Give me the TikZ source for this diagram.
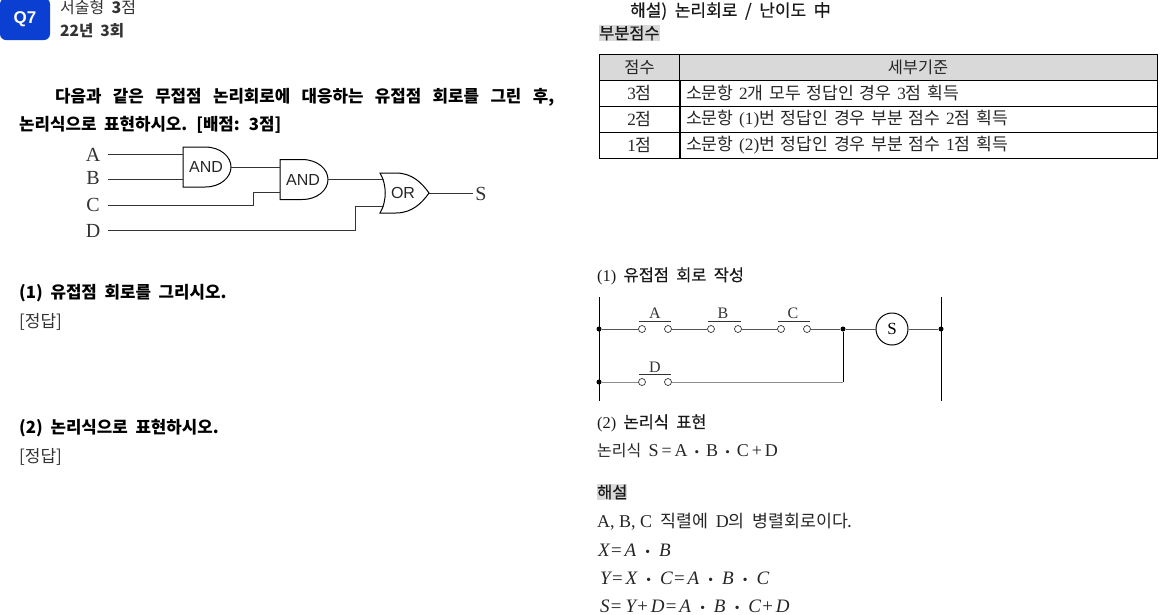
\documentclass[tikz,border=0pt]{standalone}
\usepackage{fontspec}
\setmainfont{Liberation Serif}
\setsansfont{Liberation Sans}
\newfontfamily\kr[WordSpace=2]{Noto Sans CJK KR}
\newfontfamily\krhead[WordSpace=2,FakeBold=0.5]{Noto Sans CJK KR}
\definecolor{q7blue}{HTML}{0A3FD2}
\definecolor{q7ink}{HTML}{333333}
\definecolor{q7wire}{HTML}{555555}
\definecolor{q7shade}{HTML}{D9D9D9}
\newcommand{\lat}[1]{{\rmfamily #1}}
\newcommand{\dotop}{\hspace{9pt}{\fontsize{14}{14}\selectfont•}\hspace{9pt}}

\begin{document}
\begin{tikzpicture}[
    x=1pt, y=-1pt,
    txt/.style={
        anchor=west,
        inner sep=0pt,
        font=\fontsize{17}{17}\selectfont\kr,
        text=black!85
    },
    boldtxt/.style={
        txt,
        font=\fontsize{16.8}{17}\selectfont\kr\bfseries,
        text=black
    },
    headtxt/.style={
        txt,
        font=\fontsize{16.4}{17}\selectfont\krhead,
        text=black!90
    },
    formula/.style={
        anchor=west,
        inner sep=0pt,
        font=\fontsize{19}{19}\selectfont\rmfamily\itshape,
        text=black!85
    },
    shaded/.style={
        headtxt,
        fill=q7shade,
        inner ysep=1pt
    },
    cell/.style={
        draw=black,
        line width=0.9pt,
        minimum height=26pt,
        minimum width=#1,
        inner sep=0pt,
        font=\fontsize{17.2}{17}\selectfont\kr,
        text=black!85
    },
    letter/.style={
        inner sep=0pt,
        font=\fontsize{20}{20}\selectfont\rmfamily,
        text=black!80
    },
    smallletter/.style={
        inner sep=0pt,
        font=\fontsize{16}{16}\selectfont\rmfamily,
        text=black!80
    },
    gatelabel/.style={
        inner sep=0pt,
        font=\fontsize{16}{16}\selectfont\sffamily,
        text=black!85
    },
    wire/.style={
        line width=0.9pt,
        draw=black!80
    },
    rung/.style={
        line width=1pt,
        draw=q7wire
    },
    contact/.style={
        circle,
        draw=black!80,
        line width=0.7pt,
        fill=white,
        inner sep=0pt,
        minimum size=7pt
    },
    joint/.style={
        circle,
        fill=black,
        inner sep=0pt,
        minimum size=5pt
    },
    coil/.style={
        circle,
        draw=black,
        line width=1pt,
        inner sep=0pt,
        minimum size=32pt,
        font=\fontsize{17}{17}\selectfont\rmfamily
    },
    andbody/.pic={
        \draw[line width=1pt] (-24,-20) -- (-2,-20) .. controls (14,-20) and (24,-10) .. (24,0)
            .. controls (24,10) and (14,20) .. (-2,20) -- (-24,20) -- cycle;
        \coordinate (-in1) at (-24,-12.5);
        \coordinate (-in2) at (-24,12.5);
        \coordinate (-out) at (24,0);
    },
    orbody/.pic={
        \draw[line width=1pt] (-24,-20) -- (-8,-20) .. controls (8,-20) and (18,-10) .. (25,0)
            .. controls (18,10) and (8,20) .. (-8,20) -- (-24,20)
            .. controls (-17,8) and (-17,-8) .. (-24,-20) -- cycle;
        \coordinate (-in1) at (-20,-13.5);
        \coordinate (-in2) at (-20,13.5);
        \coordinate (-out) at (25,0);
    }
]
\useasboundingbox (0,0) rectangle (1160,614);

% Question badge
\node[fill=q7blue, rounded corners=6pt, minimum width=50pt, minimum height=42pt, inner sep=0pt,
      text=white, font=\fontsize{17}{17}\selectfont\sffamily\bfseries] (badge) at (25,19) {Q7};
\node[txt, text=q7ink, font=\fontsize{16}{16}\selectfont\kr] (kind) at (60,7) {서술형 \textbf{3}점};
\node[txt, text=q7ink, font=\fontsize{15.5}{16}\selectfont\kr\bfseries] (year) at (60,31) {22년 3회};

% Question
\node[boldtxt] (qline1) at (55,97) {\makebox[499pt][s]{다음과 같은 무접점 논리회로에 대응하는 유접점 회로를 그린 후,}};
\node[boldtxt] (qline2) at (19,125) {논리식으로 표현하시오. [배점: 3점]};

% Gates
\pic (and1) at (207,167) {andbody};
\pic (and2) at (304,179.5) {andbody};
\pic (or1) at (404,193) {orbody};
\node[gatelabel] (and1lbl) at (206,167) {AND};
\node[gatelabel] (and2lbl) at (303,179.5) {AND};
\node[gatelabel] (or1lbl) at (403,193) {OR};

% Inputs
\node[letter] (lblA) at (93,155) {A};
\node[letter] (lblB) at (93,178) {B};
\node[letter] (lblC) at (93,205) {C};
\node[letter] (lblD) at (93,231) {D};
\node[letter] (lblS) at (481,194) {S};
\coordinate (inA) at (108,154.5);
\coordinate (inB) at (108,179.5);
\coordinate (inC) at (108,205);
\coordinate (inD) at (108,230);
\coordinate (outS) at (473,193);
\coordinate (bendC) at (253,205);
\coordinate (bendD) at (355,230);

% Gate wires
\draw[wire] (inA) -- (and1-in1);
\draw[wire] (inB) -- (and1-in2);
\draw[wire] (and1-out) -- (and1-out -| and2-in1);
\draw[wire] (inC) -- (bendC) |- (and2-in2);
\draw[wire] (and2-out) -- (and2-out -| or1-in1);
\draw[wire] (inD) -- (bendD) |- (or1-in2);
\draw[wire] (or1-out) -- (outS);

% Parts
\node[boldtxt] (part1) at (19,293) {(1) 유접점 회로를 그리시오.};
\node[txt, text=q7ink] (ans1) at (19,322) {[정답]};
\node[boldtxt] (part2) at (19,428) {(2) 논리식으로 표현하시오.};
\node[txt, text=q7ink] (ans2) at (19,457) {[정답]};

% Solution heading
\node[headtxt, font=\fontsize{17}{17}\selectfont\krhead] (solhead) at (630,11) {해설) 논리회로 / 난이도 中};
\node[shaded] (scorehead) at (599,33) {부분점수};

% Score table
\node[cell=81pt, fill=q7shade, font=\fontsize{16.4}{17}\selectfont\kr] (h1) at (639.5,67) {점수};
\node[cell=478pt, fill=q7shade, font=\fontsize{16.4}{17}\selectfont\kr] (h2) at (918,67) {세부기준};
\node[cell=81pt] (r1a) at (639.5,93) {\lat{3}점};
\node[cell=478pt, text width=464pt, align=left] (r1b) at (918,93) {소문항 \lat{2}개 모두 정답인 경우 \lat{3}점 획득};
\node[cell=81pt] (r2a) at (639.5,119) {\lat{2}점};
\node[cell=478pt, text width=464pt, align=left] (r2b) at (918,119) {소문항 \lat{(1)}번 정답인 경우 부분 점수 \lat{2}점 획득};
\node[cell=81pt] (r3a) at (639.5,145) {\lat{1}점};
\node[cell=478pt, text width=464pt, align=left] (r3b) at (918,145) {소문항 \lat{(2)}번 정답인 경우 부분 점수 \lat{1}점 획득};

% Ladder
\node[headtxt] (sol1) at (597,276) {\lat{(1)} 유접점 회로 작성};
\coordinate (railLtop) at (599,297);
\coordinate (railLbot) at (599,401);
\coordinate (railRtop) at (941,297);
\coordinate (railRbot) at (941,401);
\draw[line width=1pt] (railLtop) -- (railLbot);
\draw[line width=1pt] (railRtop) -- (railRbot);

\node[joint] (jL1) at (599,329) {};
\node[joint] (jL2) at (599,382) {};
\node[joint] (jM) at (843,329) {};
\node[joint] (jR) at (941,329) {};
\node[contact] (a1) at (642,329) {};
\node[contact] (a2) at (668,329) {};
\node[contact] (b1) at (711,329) {};
\node[contact] (b2) at (738,329) {};
\node[contact] (c1) at (781,329) {};
\node[contact] (c2) at (807,329) {};
\node[contact] (d1) at (642,382) {};
\node[contact] (d2) at (668,382) {};
\node[coil] (coilS) at (892,329) {S};
\coordinate (cornerD) at (843,382);

\draw[rung] (jL1) -- (a1);
\draw[rung] (a2) -- (b1);
\draw[rung] (b2) -- (c1);
\draw[rung] (c2) -- (jM);
\draw[rung] (jM) -- (coilS);
\draw[rung] (coilS) -- (jR);
\draw[rung, line width=0.6pt, draw=black!45] (jL2) -- (d1);
\draw[rung, line width=0.6pt, draw=black!45] (d2) -- (cornerD);
\draw[line width=1pt] (cornerD) -- (jM);

% Contact bars
\coordinate (barA1) at (639,321);
\coordinate (barA2) at (671,321);
\coordinate (barB1) at (708,321);
\coordinate (barB2) at (741,321);
\coordinate (barC1) at (778,321);
\coordinate (barC2) at (810,321);
\coordinate (barD1) at (639,374);
\coordinate (barD2) at (671,374);
\draw[wire] (barA1) -- (barA2);
\draw[wire] (barB1) -- (barB2);
\draw[wire] (barC1) -- (barC2);
\draw[wire] (barD1) -- (barD2);
\node[smallletter] (lblCa) at (655,313) {A};
\node[smallletter] (lblCb) at (723,313) {B};
\node[smallletter] (lblCc) at (793,313) {C};
\node[smallletter] (lblCd) at (655,367) {D};

% Logic expression
\node[headtxt] (sol2) at (597,423) {\lat{(2)} 논리식 표현};
\node[txt, font=\fontsize{16}{16}\selectfont\kr] (expr) at (597,451) {논리식 \fontsize{18}{18}\selectfont\lat{S\,=\,A\hspace{7pt}{\fontsize{13}{13}\selectfont•}\hspace{7pt}B\hspace{7pt}{\fontsize{13}{13}\selectfont•}\hspace{7pt}C\,+\,D}};

% Explanation
\node[shaded] (explhead) at (597,492) {해설};
\node[txt] (expl) at (597,522) {\fontsize{18}{18}\selectfont\lat{A, B, C} \fontsize{17.3}{17}\selectfont 직렬에 \fontsize{18}{18}\selectfont\lat{D}\fontsize{17.3}{17}\selectfont 의 병렬회로이다.};
\node[formula] (eqX) at (598,550) {X=\hspace{2pt}A\dotop B};
\node[formula] (eqY) at (600,578) {Y=\hspace{2pt}X\dotop C=\hspace{2pt}A\dotop B\dotop C};
\node[formula] (eqS) at (600,606) {S=\hspace{3pt}Y+\hspace{2pt}D=\hspace{2pt}A\dotop B\dotop C+\hspace{2pt}D};

\end{tikzpicture}
\end{document}
